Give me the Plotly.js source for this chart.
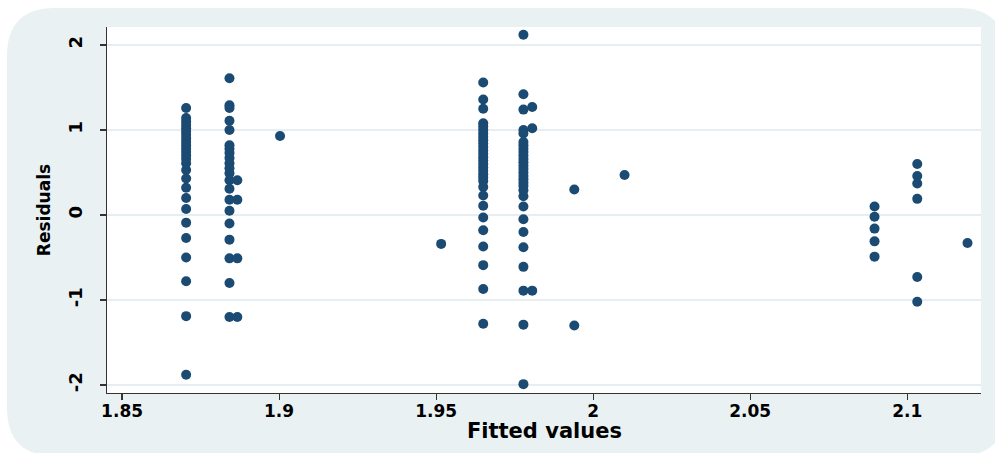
<!DOCTYPE html>
<html>
<head>
<meta charset="utf-8">
<script src="https://cdn.plot.ly/plotly-3.0.1.min.js"></script>
<style>html,body{margin:0;padding:0;background:#ffffff;}#chart{width:995px;height:453px;}</style>
</head>
<body>
<div id="chart"></div>
<script>
var colA_x = 1.8704;
var colA_res = [1.26, 1.14, 1.10, 1.06, 1.02, 0.98, 0.94, 0.90, 0.86, 0.82, 0.78, 0.74, 0.70, 0.66, 0.61, 0.53, 0.43, 0.32, 0.20, 0.07, -0.09, -0.27, -0.50, -0.78, -1.19, -1.88];
var colB_x = 1.8842;
var colB_res = [1.61, 1.29, 1.26, 1.11, 1.00, 0.82, 0.78, 0.73, 0.67, 0.61, 0.55, 0.49, 0.41, 0.31, 0.18, 0.05, -0.10, -0.29, -0.51, -0.80, -1.20];
var colB2_x = 1.8867;
var colB2_res = [0.41, 0.18, -0.51, -1.20];
var colG_x = 1.9003;
var colG_res = [0.93];
var colH_x = 1.9516;
var colH_res = [-0.34];
var colC_x = 1.9650;
var colC_res = [1.56, 1.36, 1.25, 1.08, 1.04, 1.00, 0.96, 0.92, 0.88, 0.84, 0.80, 0.76, 0.72, 0.68, 0.64, 0.60, 0.56, 0.52, 0.48, 0.44, 0.40, 0.33, 0.23, 0.11, -0.03, -0.18, -0.37, -0.59, -0.87, -1.28];
var colD_x = 1.9778;
var colD_res = [2.12, 1.42, 1.24, 1.00, 0.96, 0.86, 0.82, 0.78, 0.74, 0.70, 0.66, 0.62, 0.58, 0.54, 0.50, 0.46, 0.42, 0.38, 0.34, 0.29, 0.22, 0.10, -0.05, -0.20, -0.38, -0.61, -0.89, -1.29, -1.99];
var colD2_x = 1.9806;
var colD2_res = [1.27, 1.02, -0.89];
var colI_x = 1.9940;
var colI_res = [0.30, -1.30];
var colJ_x = 2.0100;
var colJ_res = [0.47];
var colE_x = 2.0896;
var colE_res = [0.10, -0.02, -0.16, -0.31, -0.49];
var colF_x = 2.1032;
var colF_res = [0.60, 0.46, 0.37, 0.19, -0.73, -1.02];
var colK_x = 2.1192;
var colK_res = [-0.33];

var xTickVals = [1.85, 1.9, 1.95, 2, 2.05, 2.1];
var xTickText = ["1.85", "1.9", "1.95", "2", "2.05", "2.1"];
var yTickVals = [-2, -1, 0, 1, 2];
var yTickText = ["-2", "-1", "0", "1", "2"];
var xTitle = 'Fitted values';
var yTitle = 'Residuals';

var columns = [
  [colA_x, colA_res], [colB_x, colB_res], [colB2_x, colB2_res], [colG_x, colG_res],
  [colH_x, colH_res], [colC_x, colC_res], [colD_x, colD_res], [colD2_x, colD2_res],
  [colI_x, colI_res], [colJ_x, colJ_res], [colE_x, colE_res], [colF_x, colF_res], [colK_x, colK_res]
];
var xs = [], ys = [];
columns.forEach(function (c) {
  c[1].forEach(function (r) { xs.push(c[0]); ys.push(r); });
});

// layout geometry (pixels)
var W = 995, H = 453, mL = 107, mR = 14, mT = 27, mB = 60;
var pw = W - mL - mR, ph = H - mT - mB;
function px(x) { return (x - mL) / pw; }
function py(y) { return (H - mB - y) / ph; }
function roundRect(x0, y0, x1, y1, r) {
  return 'M' + px(x0 + r) + ',' + py(y0) +
    ' L' + px(x1 - r) + ',' + py(y0) +
    ' Q' + px(x1) + ',' + py(y0) + ' ' + px(x1) + ',' + py(y0 + r) +
    ' L' + px(x1) + ',' + py(y1 - r) +
    ' Q' + px(x1) + ',' + py(y1) + ' ' + px(x1 - r) + ',' + py(y1) +
    ' L' + px(x0 + r) + ',' + py(y1) +
    ' Q' + px(x0) + ',' + py(y1) + ' ' + px(x0) + ',' + py(y1 - r) +
    ' L' + px(x0) + ',' + py(y0 + r) +
    ' Q' + px(x0) + ',' + py(y0) + ' ' + px(x0 + r) + ',' + py(y0) + ' Z';
}

var bgCol = '#e9f1f3';
var font = 'DejaVu Sans, Arial, sans-serif';

var trace = {
  type: 'scatter', mode: 'markers', x: xs, y: ys,
  marker: { color: '#1b4a73', size: 10, line: { width: 0 } },
  hoverinfo: 'x+y', showlegend: false
};

var layout = {
  width: W, height: H,
  margin: { l: mL, r: mR, t: mT, b: mB },
  paper_bgcolor: '#ffffff',
  plot_bgcolor: 'rgba(0,0,0,0)',
  shapes: [
    { type: 'path', xref: 'paper', yref: 'paper', layer: 'below', path: roundRect(7, 8, 1006, 456, 48), fillcolor: bgCol, line: { width: 0 } },
    { type: 'rect', xref: 'paper', yref: 'paper', layer: 'below', x0: 0, x1: 1, y0: 0, y1: 1, fillcolor: '#ffffff', line: { width: 0 } }
  ],
  annotations: [
    { xref: 'paper', yref: 'paper', x: 0.5, y: py(431), xanchor: 'center', yanchor: 'middle', showarrow: false,
      text: xTitle, font: { family: font, size: 21, color: '#000000', weight: 'bold' } }
  ],
  xaxis: {
    range: [1.8452, 2.1235], tickmode: 'array', tickvals: xTickVals, ticktext: xTickText,
    showgrid: false, zeroline: false, showline: true, linecolor: '#333333', linewidth: 1.2,
    ticks: 'outside', ticklen: 6, tickcolor: '#333333', tickwidth: 1.2,
    ticklabelstandoff: -4,
    tickfont: { family: font, size: 17, color: '#000000', weight: 'bold' },
    automargin: false
  },
  yaxis: {
    range: [-2.094, 2.212], tickmode: 'array', tickvals: yTickVals, ticktext: yTickText,
    showgrid: true, gridcolor: '#e6eef2', gridwidth: 1.5, zeroline: false,
    showline: true, linecolor: '#333333', linewidth: 1.2,
    ticks: 'outside', ticklen: 6, tickcolor: '#333333', tickwidth: 1.2, tickangle: -90,
    ticklabelstandoff: 11,
    tickfont: { family: font, size: 18, color: '#000000', weight: 'bold' },
    title: { text: yTitle, font: { family: font, size: 17, color: '#000000', weight: 'bold' }, standoff: 9 },
    automargin: false
  }
};

Plotly.newPlot('chart', [trace], layout, { displayModeBar: false, staticPlot: true });
</script>
</body>
</html>
